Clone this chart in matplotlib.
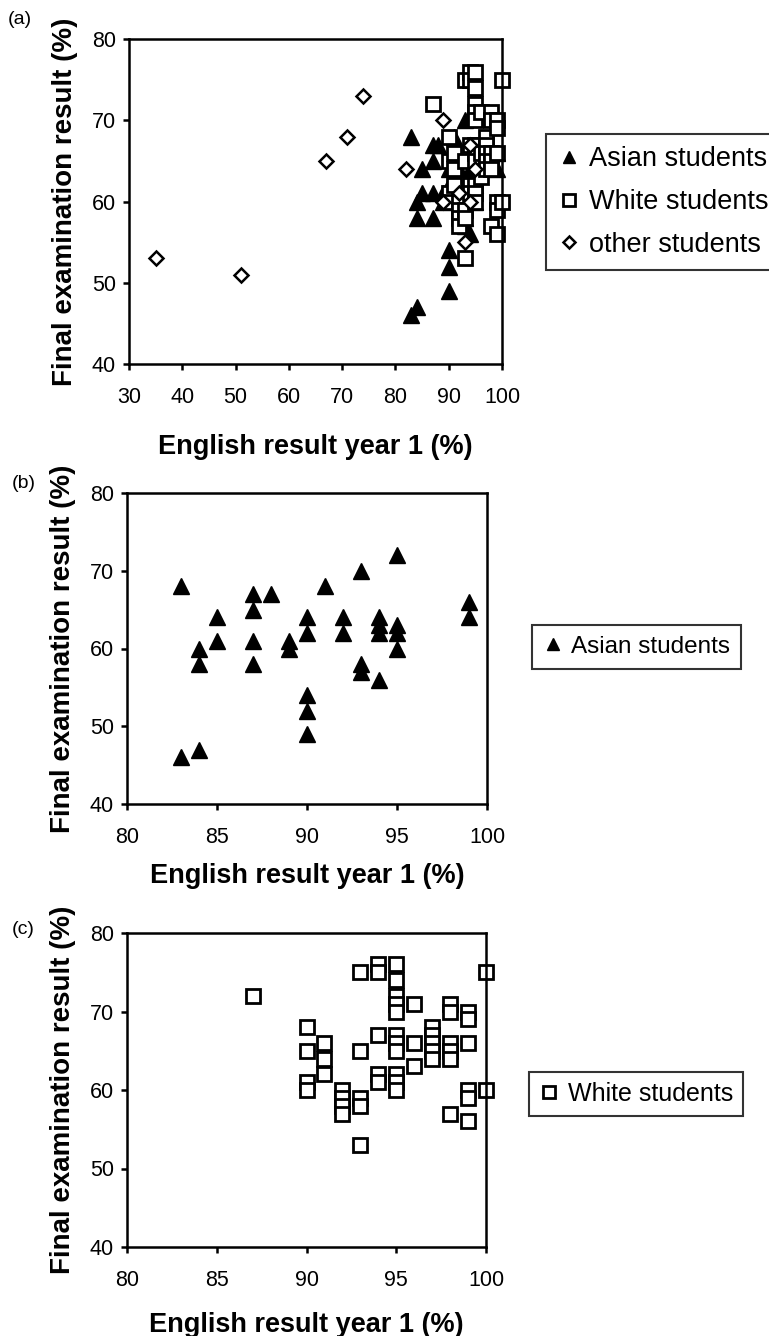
import matplotlib
matplotlib.use("Agg")
import matplotlib.pyplot as plt

plt.rcParams["font.family"] = ["Liberation Sans", "DejaVu Sans"]

# Asian students (English year 1, final exam)
asian_x = [83, 83, 84, 84, 84, 85, 85, 87, 87, 87, 87, 88, 89, 89, 90, 90, 90, 90, 90,
           91, 92, 92, 93, 93, 93, 94, 94, 94, 94, 95, 95, 95, 95, 99, 99]
asian_y = [68, 46, 47, 60, 58, 64, 61, 67, 65, 61, 58, 67, 61, 60, 64, 62, 54, 52, 49,
           68, 64, 62, 70, 58, 57, 64, 63, 62, 56, 72, 63, 62, 60, 66, 64]

# White students
white_x = [87,
           90, 90, 90, 90,
           91, 91, 91,
           92, 92, 92, 92,
           93, 93, 93, 93, 93,
           94, 94, 94, 94, 94,
           95, 95, 95, 95, 95, 95, 95, 95, 95, 95, 95,
           96, 96, 96,
           97, 97, 97, 97, 97,
           98, 98, 98, 98, 98, 98,
           99, 99, 99, 99, 99, 99,
           100, 100]
white_y = [72,
           68, 65, 61, 60,
           66, 64, 62,
           60, 59, 58, 57,
           75, 65, 59, 58, 53,
           76, 75, 67, 62, 61,
           76, 74, 72, 71, 70, 67, 66, 65, 62, 61, 60,
           71, 66, 63,
           68, 67, 66, 65, 64,
           71, 70, 66, 65, 64, 57,
           70, 69, 66, 60, 59, 56,
           75, 60]

# Other students
other_x = [35, 51, 67, 71, 74, 82, 89, 89, 92, 93, 94, 94, 95]
other_y = [53, 51, 65, 68, 73, 64, 70, 60, 61, 55, 67, 60, 64]

xlabel = "English result year 1 (%)"
ylabel = "Final examination result (%)"

W, H = 769, 1336
fig = plt.figure(figsize=(W / 100, H / 100), dpi=100)


def px_axes(left, top, right, bottom):
    return fig.add_axes([left / W, 1 - bottom / H, (right - left) / W, (bottom - top) / H])


def style(ax, xlim, xticks, labelpad_x):
    ax.set_xlim(*xlim)
    ax.set_ylim(40, 80)
    ax.set_xticks(xticks)
    ax.set_yticks([40, 50, 60, 70, 80])
    for s in ax.spines.values():
        s.set_linewidth(1.8)
        s.set_color("black")
    ax.tick_params(direction="out", length=4.5, width=1.8, labelsize=15.5, top=False, right=False)
    ax.tick_params(axis="x", pad=12)
    ax.tick_params(axis="y", pad=5)
    ax.set_xlabel(xlabel, fontsize=19.5, fontweight="bold", labelpad=labelpad_x)
    ax.set_ylabel(ylabel, fontsize=20, fontweight="bold", labelpad=10)


tri = dict(marker="^", color="black", markersize=11, linestyle="none", clip_on=False)
sq = dict(marker="s", markerfacecolor="white", markeredgecolor="black", markeredgewidth=2,
          markersize=10, linestyle="none", clip_on=False)
dia = dict(marker="D", markerfacecolor="white", markeredgecolor="black", markeredgewidth=1.8,
           markersize=7, linestyle="none", clip_on=False)

leg_kw = dict(frameon=True, fancybox=False, edgecolor="black",
              handlelength=0.8, handletextpad=0.35, borderaxespad=0, loc="upper left")

# Panel (a)
ax1 = px_axes(129, 39, 502, 364)
ax1.plot(asian_x, asian_y, label="Asian students", **tri)
ax1.plot(white_x, white_y, label="White students", **sq)
ax1.plot(other_x, other_y, label="other students", **dia)
style(ax1, (30, 100), [30, 40, 50, 60, 70, 80, 90, 100], 19)
leg = ax1.legend(bbox_to_anchor=(546 / W, 1 - 134 / H), bbox_transform=fig.transFigure,
                 markerscale=0.85, fontsize=19.5, borderpad=0.45, labelspacing=0.62,
                 borderaxespad=0, **{k: v for k, v in leg_kw.items() if k != "borderaxespad"})
leg.get_frame().set_linewidth(1.5)
fig.text(8 / W, 1 - 20 / H, "(a)", fontsize=14, va="center", ha="left")

# Panel (b)
ax2 = px_axes(127, 493, 487, 804)
ax2.plot(asian_x, asian_y, label="Asian students", **tri)
style(ax2, (80, 100), [80, 85, 90, 95, 100], 11)
leg = ax2.legend(bbox_to_anchor=(532 / W, 1 - 625 / H), bbox_transform=fig.transFigure,
                 markerscale=0.8, fontsize=17.5, borderpad=0.45, **leg_kw)
leg.get_frame().set_linewidth(1.5)
fig.text(12 / W, 1 - 484 / H, "(b)", fontsize=14, va="center", ha="left")

# Panel (c)
ax3 = px_axes(127, 933, 486, 1247)
ax3.plot(white_x, white_y, label="White students", **sq)
style(ax3, (80, 100), [80, 85, 90, 95, 100], 15)
leg = ax3.legend(bbox_to_anchor=(529 / W, 1 - 1072 / H), bbox_transform=fig.transFigure,
                 markerscale=0.8, fontsize=18, borderpad=0.4, **leg_kw)
leg.get_frame().set_linewidth(1.5)
fig.text(12 / W, 1 - 930 / H, "(c)", fontsize=14, va="center", ha="left")

fig.savefig("out.png", dpi=100)
